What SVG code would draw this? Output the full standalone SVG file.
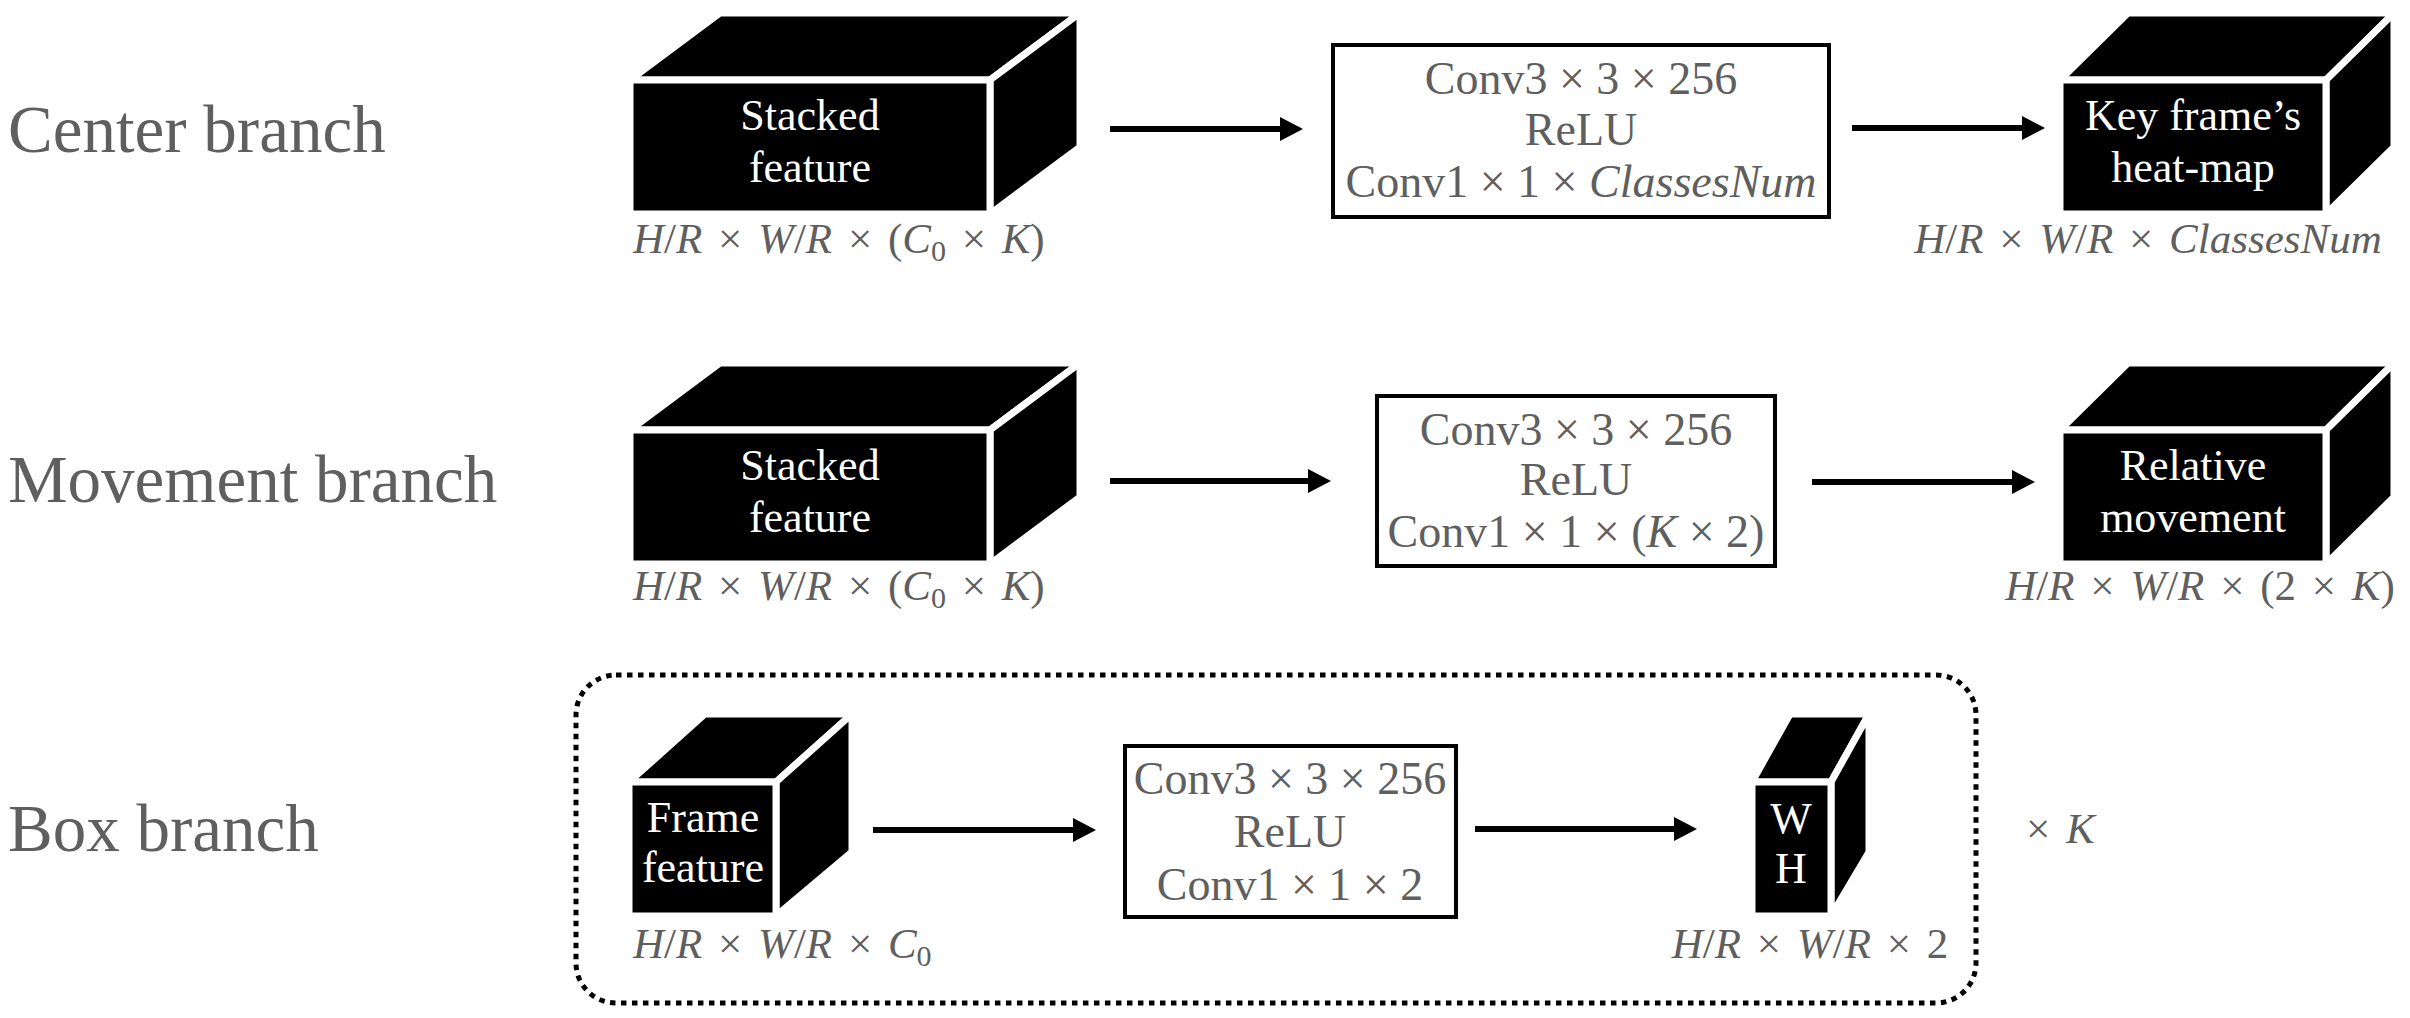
<svg xmlns="http://www.w3.org/2000/svg" width="2410" height="1018" viewBox="0 0 2410 1018">
<style>
text{font-family:'Liberation Serif','DejaVu Serif',serif}
.cube{fill:#000;stroke:#fff;stroke-width:7;stroke-linejoin:miter}
.ct{font-size:44px;fill:#fff;text-anchor:middle}
.conv{fill:#fff;stroke:#000;stroke-width:4}
.cv{font-size:46px;fill:#5f5f5f;text-anchor:middle}
.lb{font-size:43px;fill:#5f5f5f;word-spacing:5px}
.br{font-size:67px;fill:#5f5f5f}
.it{font-style:italic}
.sub{font-size:30px}
.conn{stroke:#000;stroke-width:6;fill:none;marker-end:url(#ah)}
</style>
<defs>
<marker id="ah" markerUnits="userSpaceOnUse" markerWidth="24" markerHeight="24" refX="13" refY="12" orient="auto">
<path d="M0,0 L23,12 L0,24 z" fill="#000"/>
</marker>
</defs>
<rect width="2410" height="1018" fill="#fff"/>

<g id="branch-labels">
<text class="br" x="8" y="152">Center branch</text>
<text class="br" x="8" y="502">Movement branch</text>
<text class="br" x="8" y="851">Box branch</text>
</g>

<g id="box-loop">
<rect x="576" y="675" width="1400" height="328" rx="40" ry="40" fill="none" stroke="#000" stroke-width="5" stroke-dasharray="5.5 5.5"/>
<text class="lb" x="2026" y="843">× <tspan class="it">K</tspan></text>
</g>

<g id="center-stacked">
<polygon class="cube" points="630,80 720,13 1080,13 990,80"/>
<polygon class="cube" points="990,80 1080,13 1080,147 990,214"/>
<rect class="cube" x="630" y="80" width="360" height="134"/>
<text class="ct" x="810" y="130">Stacked</text>
<text class="ct" x="810" y="182">feature</text>
<text class="lb" x="633" y="253"><tspan class="it">H</tspan>/<tspan class="it">R</tspan> × <tspan class="it">W</tspan>/<tspan class="it">R</tspan> × (<tspan class="it">C</tspan><tspan class="sub" dy="8">0</tspan><tspan dy="-8"> × </tspan><tspan class="it">K</tspan>)</text>
</g>

<g id="center-conv">
<rect class="conv" x="1333" y="45" width="496" height="172"/>
<text class="cv" x="1581" y="94">Conv3 × 3 × 256</text>
<text class="cv" x="1581" y="145">ReLU</text>
<text class="cv" x="1581" y="197">Conv1 × 1 × <tspan class="it">ClassesNum</tspan></text>
</g>

<g id="center-heatmap">
<polygon class="cube" points="2060,80 2128,13 2394,13 2326,80"/>
<polygon class="cube" points="2326,80 2394,13 2394,147 2326,214"/>
<rect class="cube" x="2060" y="80" width="266" height="134"/>
<text class="ct" x="2193" y="130">Key frame’s</text>
<text class="ct" x="2193" y="182">heat-map</text>
<text class="lb" x="2148" y="253" text-anchor="middle"><tspan class="it">H</tspan>/<tspan class="it">R</tspan> × <tspan class="it">W</tspan>/<tspan class="it">R</tspan> × <tspan class="it">ClassesNum</tspan></text>
</g>

<g id="movement-stacked">
<polygon class="cube" points="630,430 720,363 1080,363 990,430"/>
<polygon class="cube" points="990,430 1080,363 1080,497 990,564"/>
<rect class="cube" x="630" y="430" width="360" height="134"/>
<text class="ct" x="810" y="480">Stacked</text>
<text class="ct" x="810" y="532">feature</text>
<text class="lb" x="633" y="600"><tspan class="it">H</tspan>/<tspan class="it">R</tspan> × <tspan class="it">W</tspan>/<tspan class="it">R</tspan> × (<tspan class="it">C</tspan><tspan class="sub" dy="8">0</tspan><tspan dy="-8"> × </tspan><tspan class="it">K</tspan>)</text>
</g>

<g id="movement-conv">
<rect class="conv" x="1377" y="396" width="398" height="170"/>
<text class="cv" x="1576" y="445">Conv3 × 3 × 256</text>
<text class="cv" x="1576" y="495">ReLU</text>
<text class="cv" x="1576" y="547">Conv1 × 1 × (<tspan class="it">K</tspan> × 2)</text>
</g>

<g id="movement-relative">
<polygon class="cube" points="2060,430 2128,363 2394,363 2326,430"/>
<polygon class="cube" points="2326,430 2394,363 2394,497 2326,564"/>
<rect class="cube" x="2060" y="430" width="266" height="134"/>
<text class="ct" x="2193" y="480">Relative</text>
<text class="ct" x="2193" y="532">movement</text>
<text class="lb" x="2200" y="600" text-anchor="middle"><tspan class="it">H</tspan>/<tspan class="it">R</tspan> × <tspan class="it">W</tspan>/<tspan class="it">R</tspan> × (2 × <tspan class="it">K</tspan>)</text>
</g>

<g id="box-frame">
<polygon class="cube" points="629,782 705,714 852,714 776,782"/>
<polygon class="cube" points="776,782 852,714 852,852 776,916"/>
<rect class="cube" x="629" y="782" width="147" height="134"/>
<text class="ct" x="703" y="832">Frame</text>
<text class="ct" x="703" y="882">feature</text>
<text class="lb" x="633" y="958"><tspan class="it">H</tspan>/<tspan class="it">R</tspan> × <tspan class="it">W</tspan>/<tspan class="it">R</tspan> × <tspan class="it">C</tspan><tspan class="sub" dy="8">0</tspan></text>
</g>

<g id="box-conv">
<rect class="conv" x="1125" y="746" width="331" height="171"/>
<text class="cv" x="1290" y="794">Conv3 × 3 × 256</text>
<text class="cv" x="1290" y="847">ReLU</text>
<text class="cv" x="1290" y="900">Conv1 × 1 × 2</text>
</g>

<g id="box-wh">
<polygon class="cube" points="1752,782 1790,714 1869,714 1831,782"/>
<polygon class="cube" points="1831,782 1869,714 1869,852 1831,916"/>
<rect class="cube" x="1752" y="782" width="79" height="134"/>
<text class="ct" x="1791" y="833">W</text>
<text class="ct" x="1791" y="883">H</text>
<text class="lb" x="1810" y="958" text-anchor="middle"><tspan class="it">H</tspan>/<tspan class="it">R</tspan> × <tspan class="it">W</tspan>/<tspan class="it">R</tspan> × 2</text>
</g>

<g id="connectors">
<line class="conn" x1="1110" y1="129" x2="1293" y2="129"/>
<line class="conn" x1="1852" y1="128" x2="2035" y2="128"/>
<line class="conn" x1="1110" y1="481" x2="1321" y2="481"/>
<line class="conn" x1="1812" y1="482" x2="2025" y2="482"/>
<line class="conn" x1="873" y1="830" x2="1086" y2="830"/>
<line class="conn" x1="1475" y1="829" x2="1687" y2="829"/>
</g>
</svg>
